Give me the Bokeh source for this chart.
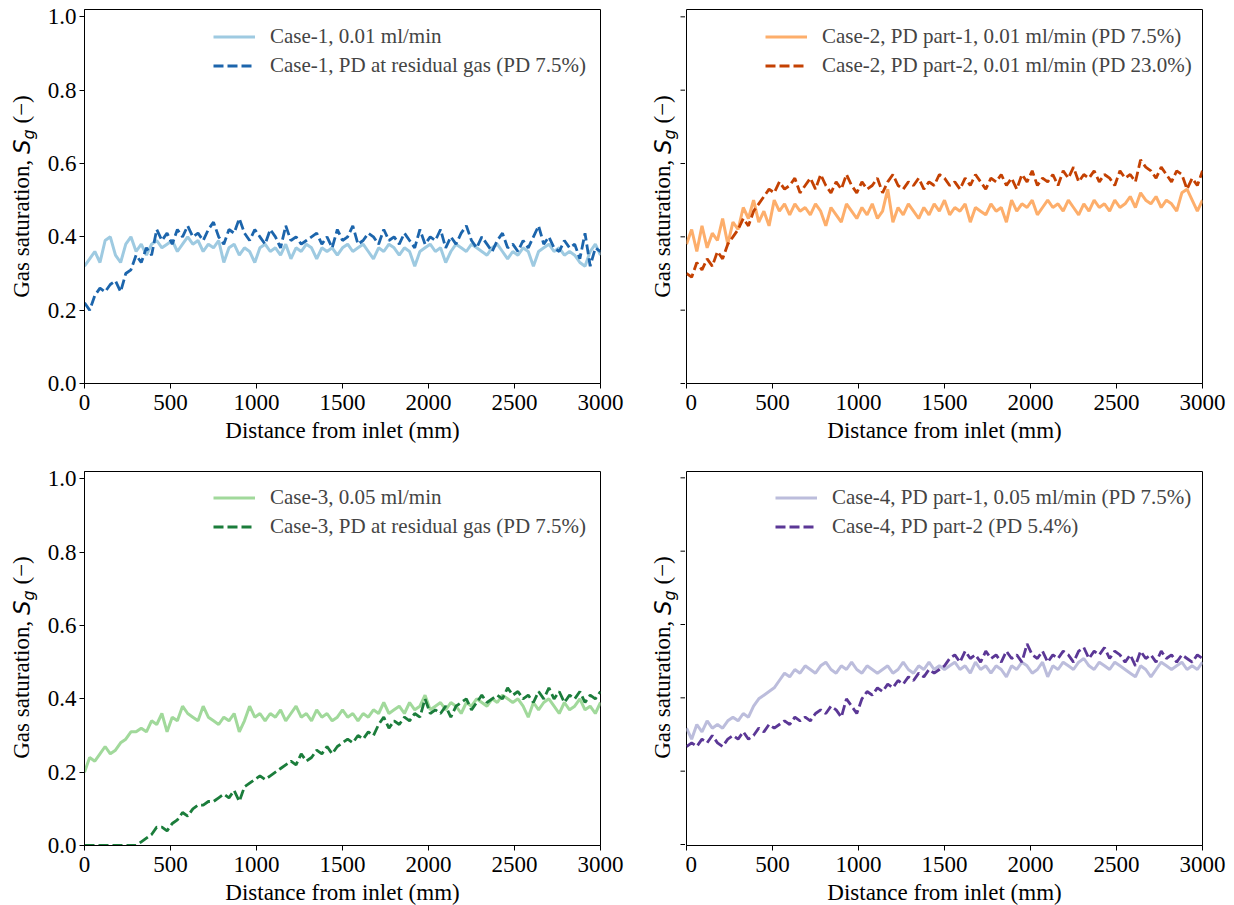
import numpy as np
from bokeh.plotting import figure
from bokeh.layouts import column, row
from bokeh.models import Range1d, FixedTicker, PrintfTickFormatter, Legend, LegendItem
from bokeh.core.properties import value
from bokeh.embed import file_html
from bokeh.resources import INLINE

# Distance from inlet (mm), sampled every 30 mm
distance_mm = list(range(0, 3001, 30))

case1_flow = [
    0.32, 0.34, 0.36, 0.33, 0.39, 0.40, 0.35, 0.33, 0.38, 0.40,
    0.36, 0.38, 0.35, 0.38, 0.39, 0.37, 0.38, 0.39, 0.36, 0.38,
    0.40, 0.38, 0.39, 0.36, 0.38, 0.37, 0.39, 0.33, 0.37, 0.38,
    0.35, 0.37, 0.36, 0.33, 0.37, 0.38, 0.36, 0.37, 0.35, 0.38,
    0.34, 0.37, 0.36, 0.38, 0.37, 0.34, 0.37, 0.36, 0.37, 0.35,
    0.37, 0.38, 0.36, 0.37, 0.38, 0.36, 0.34, 0.37, 0.36, 0.38,
    0.37, 0.35, 0.37, 0.36, 0.32, 0.36, 0.37, 0.38, 0.36, 0.37,
    0.33, 0.36, 0.38, 0.37, 0.36, 0.38, 0.37, 0.36, 0.35, 0.37,
    0.38, 0.36, 0.34, 0.36, 0.35, 0.37, 0.36, 0.32, 0.36, 0.37,
    0.38, 0.36, 0.37, 0.35, 0.36, 0.35, 0.33, 0.32, 0.36, 0.38,
    0.35]
case1_pd = [
    0.22, 0.20, 0.24, 0.26, 0.25, 0.27, 0.28, 0.25, 0.30, 0.31,
    0.35, 0.33, 0.37, 0.35, 0.42, 0.39, 0.41, 0.38, 0.42, 0.40,
    0.43, 0.40, 0.41, 0.39, 0.42, 0.44, 0.40, 0.38, 0.42, 0.41,
    0.45, 0.41, 0.39, 0.42, 0.40, 0.38, 0.42, 0.40, 0.37, 0.43,
    0.39, 0.40, 0.38, 0.39, 0.40, 0.41, 0.38, 0.40, 0.37, 0.42,
    0.39, 0.40, 0.43, 0.38, 0.39, 0.41, 0.40, 0.38, 0.42, 0.39,
    0.40, 0.38, 0.41, 0.39, 0.37, 0.42, 0.38, 0.40, 0.39, 0.42,
    0.37, 0.40, 0.38, 0.41, 0.43, 0.39, 0.37, 0.40, 0.38, 0.36,
    0.39, 0.41, 0.37, 0.38, 0.36, 0.39, 0.37, 0.40, 0.43, 0.38,
    0.40, 0.37, 0.36, 0.39, 0.37, 0.38, 0.34, 0.41, 0.32, 0.37,
    0.36]
case2_part1 = [
    0.38, 0.42, 0.36, 0.43, 0.37, 0.41, 0.39, 0.45, 0.38, 0.44,
    0.42, 0.48, 0.45, 0.50, 0.44, 0.47, 0.43, 0.50, 0.47, 0.49,
    0.46, 0.49, 0.47, 0.48, 0.46, 0.49, 0.47, 0.43, 0.48, 0.46,
    0.44, 0.49, 0.47, 0.45, 0.48, 0.46, 0.49, 0.45, 0.47, 0.53,
    0.44, 0.48, 0.46, 0.49, 0.47, 0.45, 0.48, 0.46, 0.49, 0.47,
    0.50, 0.46, 0.48, 0.47, 0.49, 0.44, 0.48, 0.47, 0.46, 0.49,
    0.47, 0.48, 0.44, 0.50, 0.47, 0.49, 0.48, 0.50, 0.46, 0.48,
    0.50, 0.48, 0.49, 0.47, 0.50, 0.48, 0.46, 0.49, 0.47, 0.50,
    0.48, 0.49, 0.47, 0.50, 0.48, 0.49, 0.51, 0.48, 0.52, 0.50,
    0.49, 0.51, 0.48, 0.50, 0.49, 0.47, 0.52, 0.53, 0.50, 0.47,
    0.50]
case2_part2 = [
    0.30, 0.29, 0.33, 0.31, 0.34, 0.32, 0.36, 0.34, 0.38, 0.40,
    0.42, 0.45, 0.43, 0.47, 0.49, 0.51, 0.53, 0.52, 0.55, 0.53,
    0.54, 0.56, 0.52, 0.54, 0.56, 0.53, 0.57, 0.54, 0.52, 0.55,
    0.53, 0.57, 0.54, 0.52, 0.55, 0.53, 0.54, 0.56, 0.52, 0.55,
    0.57, 0.54, 0.53, 0.55, 0.54, 0.56, 0.53, 0.55, 0.54, 0.57,
    0.56, 0.54, 0.55, 0.53, 0.56, 0.54, 0.57, 0.55, 0.53, 0.56,
    0.55, 0.57, 0.54, 0.56, 0.53, 0.57, 0.55, 0.58, 0.54, 0.56,
    0.55, 0.57, 0.54, 0.58, 0.56, 0.59, 0.55, 0.57, 0.56, 0.58,
    0.55, 0.57, 0.56, 0.54, 0.58, 0.56, 0.57, 0.55, 0.61, 0.59,
    0.58, 0.56, 0.59, 0.57, 0.55, 0.58, 0.57, 0.53, 0.56, 0.54,
    0.58]
case3_flow = [
    0.20, 0.24, 0.23, 0.25, 0.27, 0.25, 0.26, 0.28, 0.29, 0.31,
    0.31, 0.32, 0.31, 0.34, 0.33, 0.36, 0.31, 0.35, 0.34, 0.38,
    0.36, 0.35, 0.34, 0.38, 0.35, 0.34, 0.33, 0.35, 0.34, 0.36,
    0.31, 0.34, 0.38, 0.35, 0.36, 0.34, 0.36, 0.35, 0.37, 0.34,
    0.36, 0.38, 0.35, 0.36, 0.34, 0.37, 0.35, 0.36, 0.34, 0.35,
    0.37, 0.35, 0.36, 0.34, 0.36, 0.35, 0.37, 0.36, 0.39, 0.36,
    0.37, 0.38, 0.36, 0.39, 0.37, 0.38, 0.41, 0.37, 0.38, 0.39,
    0.37, 0.39, 0.38, 0.36, 0.39, 0.38, 0.40, 0.39, 0.38, 0.40,
    0.39, 0.41, 0.40, 0.39, 0.40, 0.38, 0.35, 0.39, 0.37, 0.39,
    0.40, 0.38, 0.36, 0.39, 0.37, 0.38, 0.40, 0.37, 0.38, 0.36,
    0.39]
case3_pd = [
    0.00, 0.00, 0.00, 0.00, 0.00, 0.00, 0.00, 0.00, 0.00, 0.00,
    0.00, 0.01, 0.02, 0.03, 0.05, 0.05, 0.04, 0.06, 0.07, 0.09,
    0.08, 0.10, 0.11, 0.11, 0.12, 0.12, 0.13, 0.14, 0.13, 0.15,
    0.12, 0.16, 0.17, 0.18, 0.19, 0.18, 0.19, 0.20, 0.21, 0.22,
    0.23, 0.22, 0.25, 0.23, 0.24, 0.26, 0.25, 0.27, 0.25, 0.27,
    0.28, 0.29, 0.28, 0.30, 0.29, 0.31, 0.30, 0.33, 0.35, 0.32,
    0.34, 0.33, 0.35, 0.34, 0.36, 0.35, 0.40, 0.36, 0.37, 0.36,
    0.38, 0.35, 0.38, 0.39, 0.40, 0.37, 0.39, 0.41, 0.39, 0.40,
    0.41, 0.40, 0.43, 0.41, 0.42, 0.40, 0.41, 0.39, 0.42, 0.40,
    0.43, 0.40, 0.42, 0.39, 0.41, 0.40, 0.42, 0.39, 0.41, 0.40,
    0.42]
case4_part1 = [
    0.32, 0.29, 0.33, 0.31, 0.34, 0.32, 0.33, 0.32, 0.34, 0.35,
    0.34, 0.36, 0.35, 0.38, 0.40, 0.41, 0.42, 0.43, 0.45, 0.47,
    0.46, 0.48, 0.47, 0.49, 0.48, 0.47, 0.49, 0.50, 0.48, 0.47,
    0.49, 0.48, 0.50, 0.48, 0.47, 0.49, 0.48, 0.47, 0.48, 0.49,
    0.47, 0.48, 0.50, 0.48, 0.47, 0.49, 0.48, 0.50, 0.48, 0.49,
    0.48, 0.49, 0.50, 0.48, 0.49, 0.47, 0.50, 0.48, 0.49, 0.47,
    0.49, 0.48, 0.46, 0.49, 0.48, 0.50, 0.49, 0.47, 0.48, 0.50,
    0.46, 0.49, 0.48, 0.50, 0.49, 0.48, 0.50, 0.51, 0.49, 0.48,
    0.50, 0.49, 0.48, 0.50, 0.49, 0.48, 0.47, 0.46, 0.49, 0.48,
    0.46, 0.48, 0.50, 0.49, 0.48, 0.49, 0.50, 0.48, 0.49, 0.48,
    0.50]
case4_part2 = [
    0.27, 0.28, 0.27, 0.29, 0.28, 0.30, 0.28, 0.27, 0.29, 0.30,
    0.29, 0.31, 0.29, 0.30, 0.32, 0.31, 0.33, 0.32, 0.33, 0.34,
    0.33, 0.35, 0.34, 0.35, 0.34, 0.36, 0.37, 0.36, 0.38, 0.37,
    0.35, 0.40, 0.38, 0.36, 0.40, 0.42, 0.41, 0.43, 0.42, 0.44,
    0.43, 0.45, 0.44, 0.46, 0.45, 0.47, 0.46, 0.48, 0.47, 0.48,
    0.49, 0.51, 0.52, 0.50, 0.53, 0.51, 0.52, 0.50, 0.53, 0.51,
    0.52, 0.50, 0.53, 0.51, 0.52, 0.50, 0.55, 0.52, 0.51, 0.53,
    0.50, 0.52, 0.51, 0.53, 0.52, 0.50, 0.53, 0.54, 0.51, 0.53,
    0.52, 0.54, 0.51, 0.53, 0.52, 0.50, 0.52, 0.49, 0.53, 0.51,
    0.52, 0.50, 0.53, 0.51, 0.52, 0.50, 0.52, 0.51, 0.50, 0.52,
    0.51]

labels = [
    ("Case-1, 0.01 ml/min", "Case-1, PD at residual gas (PD 7.5%)"),
    ("Case-2, PD part-1, 0.01 ml/min (PD 7.5%)", "Case-2, PD part-2, 0.01 ml/min (PD 23.0%)"),
    ("Case-3, 0.05 ml/min", "Case-3, PD at residual gas (PD 7.5%)"),
    ("Case-4, PD part-1, 0.05 ml/min (PD 7.5%)", "Case-4, PD part-2 (PD 5.4%)"),
]
x_ticks = [0, 500, 1000, 1500, 2000, 2500, 3000]
y_ticks = [0.0, 0.2, 0.4, 0.6, 0.8, 1.0]
x_label = "Distance from inlet (mm)"
y_label_parts = ("Gas saturation,", "S", "g", "(\u2212)")

SERIF = "Liberation Serif"
FW, FH = 516, 374
YMAX = 1.02
K = YMAX / FH   # data units per pixel on the y axis


def make_panel(light, dark, c_light, c_dark, lab1, lab2, with_yaxis,
               bl, br, bt, bb, leg_xy):
    p = figure(frame_width=FW, frame_height=FH, title=None,
               x_range=Range1d(0, 3000), y_range=Range1d(0, YMAX),
               output_backend="svg", toolbar_location=None,
               y_axis_location="left" if with_yaxis else None,
               min_border_left=bl, min_border_right=br,
               min_border_top=bt, min_border_bottom=bb,
               background_fill_color="white", border_fill_color="white")
    p.grid.visible = False
    p.outline_line_color = "black"
    p.outline_line_width = 1
    p.outline_line_alpha = 1

    for axes in (p.xaxis, p.yaxis):
        axes.axis_line_color = "black"
        axes.major_tick_line_color = "black"
        axes.major_tick_out = 5
        axes.major_tick_in = 0
        axes.minor_tick_line_color = None
        axes.major_label_text_font = SERIF
        axes.major_label_text_font_size = "23px"
        axes.major_label_text_color = "black"
        axes.axis_label_text_font = SERIF
        axes.axis_label_text_font_size = "23px"
        axes.axis_label_text_font_style = "normal"
        axes.axis_label_text_color = "black"

    p.xaxis.major_label_standoff = 6
    p.xaxis.ticker = FixedTicker(ticks=x_ticks)
    p.xaxis.axis_label = x_label
    p.xaxis.axis_label_standoff = 5
    if with_yaxis:
        p.yaxis.major_label_standoff = 3
        p.yaxis.ticker = FixedTicker(ticks=y_ticks)
        p.yaxis.formatter = PrintfTickFormatter(format="%.1f")

    r1 = p.line(distance_mm, light, line_color=c_light, line_width=3)
    r2 = p.line(distance_mm, dark, line_color=c_dark, line_width=2.8, line_dash="10 4")

    legend = Legend(items=[LegendItem(label=lab1, renderers=[r1]),
                           LegendItem(label=lab2, renderers=[r2])],
                    location=leg_xy, border_line_alpha=0, background_fill_alpha=0,
                    padding=0, margin=0, spacing=0, glyph_width=42, glyph_height=29,
                    label_height=29, label_standoff=15,
                    label_text_font=SERIF, label_text_font_size="21px",
                    label_text_baseline="middle")
    p.add_layout(legend)
    return p


def make_side(width, bt, bb, x_mid, with_ticks, shift):
    """Narrow strip left of a panel: rotated label 'Gas saturation, S_g (−)'
    and, for the right-hand panels, the unlabeled y tick marks."""
    q = figure(frame_width=width, frame_height=bt + FH + bb, title=None,
               x_range=Range1d(0, width),
               y_range=Range1d(-(bb + shift) * K, (FH + bt - shift) * K),
               x_axis_location=None, y_axis_location=None,
               output_backend="svg", toolbar_location=None,
               min_border_left=0, min_border_right=0, min_border_top=0,
               min_border_bottom=0, background_fill_color="white",
               border_fill_color="white")
    q.grid.visible = False
    q.outline_line_color = None
    fs = 23
    w_main = 6.0 * fs
    w_sp = 0.25 * fs
    w_S = 0.635 * fs
    w_g = 0.635 * 16
    w_par = 1.23 * fs
    total = w_main + w_sp + w_S + w_g + w_sp + w_par
    start = FH / 2 - total / 2
    y_main_end = (start + w_main) * K
    y_S = (start + w_main + w_sp) * K
    y_g = (start + w_main + w_sp + w_S) * K
    y_par = (start + w_main + w_sp + w_S + w_g + w_sp) * K
    a = np.pi / 2
    q.text(x=[x_mid], y=[y_main_end], text=[y_label_parts[0]], angle=a,
           text_align="right", text_baseline="middle", text_color="black",
           text_font=value(SERIF), text_font_size=value("23px"))
    q.text(x=[x_mid], y=[y_S], text=[y_label_parts[1]], angle=a,
           text_align="left", text_baseline="middle", text_color="black",
           text_font=value("DejaVu Sans"), text_font_style="italic",
           text_font_size=value("23px"))
    q.text(x=[x_mid + 6.5], y=[y_g], text=[y_label_parts[2]], angle=a,
           text_align="left", text_baseline="middle", text_color="black",
           text_font=value("DejaVu Sans"), text_font_style="italic",
           text_font_size=value("16px"))
    q.text(x=[x_mid], y=[y_par], text=[y_label_parts[3]], angle=a,
           text_align="left", text_baseline="middle", text_color="black",
           text_font=value(SERIF), text_font_size=value("23px"))
    if with_ticks:
        n = len(y_ticks)
        q.segment(x0=[width - 5] * n, y0=y_ticks, x1=[width] * n, y1=y_ticks,
                  line_color="black", line_width=1)
    return q


TOP_T, TOP_B = 9, 76
BOT_T, BOT_B = 12, 60

p1 = make_panel(case1_flow, case1_pd, "#9ecae1", "#1c65ac", *labels[0], True,
                40, 26, TOP_T, TOP_B, (129, 303))
p2 = make_panel(case2_part1, case2_part2, "#fdae6b", "#c44102", *labels[1], False,
                1, 26, TOP_T, TOP_B, (79, 303))
p3 = make_panel(case3_flow, case3_pd, "#a1d99b", "#1b7d3b", *labels[2], True,
                40, 26, BOT_T, BOT_B, (129, 304))
p4 = make_panel(case4_part1, case4_part2, "#bcbddc", "#5b3796", *labels[3], False,
                1, 26, BOT_T, BOT_B, (89, 304))

s1 = make_side(44, TOP_T, TOP_B, 21, False, 9)
s2 = make_side(59, TOP_T, TOP_B, 36, True, 9)
s3 = make_side(44, BOT_T, BOT_B, 21, False, 13)
s4 = make_side(59, BOT_T, BOT_B, 36, True, 13)

layout = column(row(s1, p1, s2, p2), row(s3, p3, s4, p4))
open("out.html", "w").write(file_html(layout, INLINE))
